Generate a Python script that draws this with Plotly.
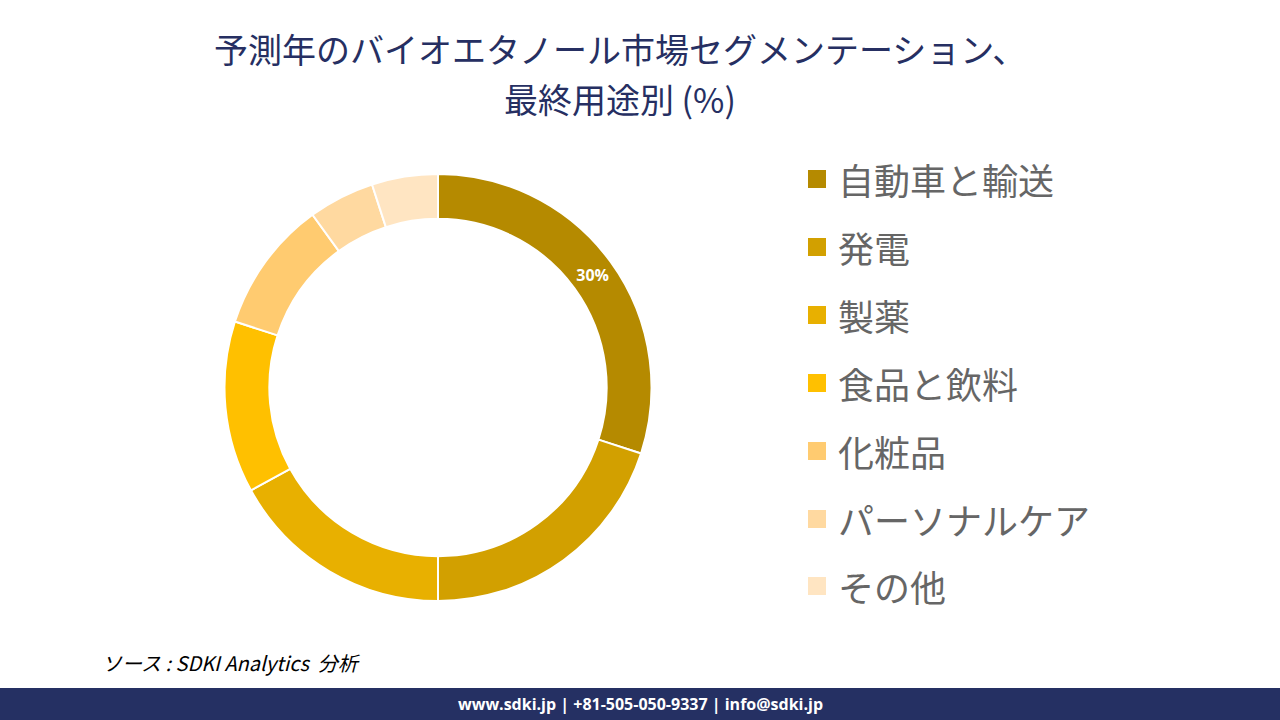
import plotly.graph_objects as go

categories = ["自動車と輸送", "発電", "製薬", "食品と飲料", "化粧品", "パーソナルケア", "その他"]
shares = [30, 20, 17, 13, 10, 5, 5]
colors = ["#B58A00", "#D2A000", "#E8B000", "#FFC000", "#FFCB70", "#FFD9A0", "#FFE5C2"]
slice_labels = ["30%", "", "", "", "", "", ""]

title_lines = ["予測年のバイオエタノール市場セグメンテーション、", "最終用途別 (%)"]
source_text = "ソース : SDKI Analytics  分析"
footer_text = "www.sdki.jp | +81-505-050-9337 | info@sdki.jp"

W, H = 1280, 720

def px(x):
    return x / W

def py(y):
    return 1 - y / H

fig = go.Figure()
fig.add_trace(go.Pie(
    labels=categories,
    values=shares,
    sort=False,
    direction="clockwise",
    rotation=0,
    hole=0.79,
    marker=dict(colors=colors, line=dict(color="white", width=2)),
    text=slice_labels,
    textinfo="text",
    textposition="inside",
    insidetextorientation="horizontal",
    textfont=dict(family="Open Sans", size=16, color="white", weight="bold"),
    domain=dict(x=[px(224.5), px(651.5)], y=[py(601), py(174)]),
    showlegend=False,
    hoverinfo="label+percent",
))

shapes = []
annotations = []

# Title (two lines)
for line, yy in zip(title_lines, [49, 99]):
    annotations.append(dict(
        text=line,
        x=px(620), y=py(yy), xref="paper", yref="paper",
        xanchor="center", yanchor="middle", showarrow=False,
        font=dict(family="Noto Sans CJK JP", size=34, color="#262F62"),
    ))

# Legend (manual)
row_y = [179, 247, 315, 383, 451, 519, 586]
for name, col, yy in zip(categories, colors, row_y):
    shapes.append(dict(type="rect", xref="paper", yref="paper",
                       x0=px(808), x1=px(826), y0=py(yy + 9), y1=py(yy - 9),
                       fillcolor=col, line=dict(width=0)))
    annotations.append(dict(
        text=name, x=px(836), y=py(yy), xref="paper", yref="paper",
        xanchor="left", yanchor="middle", showarrow=False,
        font=dict(family="Noto Sans CJK JP", size=36, color="#666666"),
    ))

# Source
annotations.append(dict(
    text="<i>" + source_text + "</i>", x=px(100), y=py(662), xref="paper", yref="paper",
    xanchor="left", yanchor="middle", showarrow=False,
    font=dict(family="Noto Sans CJK JP", size=20, color="#000000"),
))

# Footer bar
shapes.append(dict(type="rect", xref="paper", yref="paper",
                   x0=0, x1=1, y0=0, y1=py(688),
                   fillcolor="#253063", line=dict(width=0), layer="below"))
annotations.append(dict(
    text="<b>" + footer_text + "</b>", x=px(640), y=py(704), xref="paper", yref="paper",
    xanchor="center", yanchor="middle", showarrow=False,
    font=dict(family="Open Sans", size=16, color="white"),
))

fig.update_layout(
    width=W, height=H,
    margin=dict(l=0, r=0, t=0, b=0),
    paper_bgcolor="white",
    plot_bgcolor="white",
    shapes=shapes,
    annotations=annotations,
)

fig.write_html(
    "out.html",
    config={"displayModeBar": False},
    post_script="document.body.style.margin='0';document.body.style.overflow='hidden';",
)
